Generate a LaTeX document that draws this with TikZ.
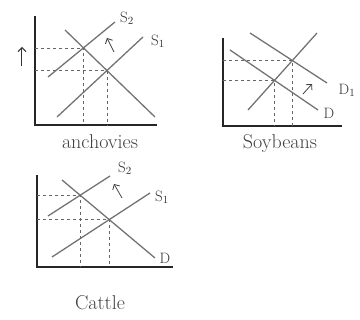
\documentclass[tikz,border=0pt]{standalone}
\usetikzlibrary{arrows.meta}
\begin{document}
\begin{tikzpicture}[x=1pt,y=-1pt,
  axisline/.style={line width=1.4pt,black!85},
  curveline/.style={line width=1.3pt,black!55},
  guideline/.style={line width=0.6pt,black!60,dash pattern=on 3pt off 3pt},
  shiftarrow/.style={line width=0.8pt,black!75,-{Straight Barb[length=4pt]}},
  curvelabel/.style={font=\fontsize{15}{17}\selectfont,black!80},
  titlelabel/.style={font=\fontsize{20}{22}\selectfont,black!75}]
\useasboundingbox (0,0) rectangle (360,320);
% ---------- Anchovies ----------
\coordinate (aO) at (35,125);
\coordinate (aY) at (35,16);
\coordinate (aX) at (157,125);
\draw[axisline] (aY) -- (aO) -- (aX);
\draw[line width=1pt,black!80,-{Straight Barb[length=4pt]}] (22,66) -- (22,47);
\coordinate (as2a) at (48,77); \coordinate (as2b) at (115,22);
\coordinate (as1a) at (57,117); \coordinate (as1b) at (143,37);
\coordinate (ada) at (65,30); \coordinate (adb) at (155,117);
\draw[curveline] (as2a) -- (as2b);
\draw[curveline] (as1a) -- (as1b);
\draw[curveline] (ada) -- (adb);
\coordinate (aE2) at (intersection of as2a--as2b and ada--adb);
\coordinate (aE1) at (intersection of as1a--as1b and ada--adb);
\draw[guideline] (aE2 -| aO) -- (aE2) -- (aE2 |- aO);
\draw[guideline] (aE1 -| aO) -- (aE1) -- (aE1 |- aO);
\draw[shiftarrow] (114,52) -- (107,38);
\node[curvelabel] (aS2) at (127,18) {S$_2$};
\node[curvelabel] (aS1) at (158,41) {S$_1$};
\node[titlelabel] (acap) at (100,142) {anchovies};
% ---------- Soybeans ----------
\coordinate (bO) at (223,126);
\coordinate (bY) at (223,38);
\coordinate (bX) at (342,126);
\draw[axisline] (bY) -- (bO) -- (bX);
\coordinate (bsa) at (248,110); \coordinate (bsb) at (317,33);
\coordinate (bda) at (230,50); \coordinate (bdb) at (318,110);
\coordinate (bd1a) at (250,33); \coordinate (bd1b) at (327,83);
\draw[curveline] (bsa) -- (bsb);
\draw[curveline] (bda) -- (bdb);
\draw[curveline] (bd1a) -- (bd1b);
\coordinate (bE1) at (intersection of bsa--bsb and bda--bdb);
\coordinate (bE2) at (intersection of bsa--bsb and bd1a--bd1b);
\draw[guideline] (bE2 -| bO) -- (bE2) -- (bE2 |- bO);
\draw[guideline] (bE1 -| bO) -- (bE1) -- (bE1 |- bO);
\draw[shiftarrow] (303,94) -- (312,84);
\node[curvelabel] (bD1) at (347,90) {D$_1$};
\node[curvelabel] (bD) at (329,113) {D};
\node[titlelabel] (bcap) at (280,144) {Soybeans};
% ---------- Cattle ----------
\coordinate (cO) at (37,267);
\coordinate (cY) at (37,175);
\coordinate (cX) at (173,267);
\draw[axisline] (cY) -- (cO) -- (cX);
\coordinate (cs2a) at (48,216); \coordinate (cs2b) at (110,176);
\coordinate (cs1a) at (52,257); \coordinate (cs1b) at (150,193);
\coordinate (cda) at (62,180); \coordinate (cdb) at (155,258);
\draw[curveline] (cs2a) -- (cs2b);
\draw[curveline] (cs1a) -- (cs1b);
\draw[curveline] (cda) -- (cdb);
\coordinate (cE2) at (intersection of cs2a--cs2b and cda--cdb);
\coordinate (cE1) at (intersection of cs1a--cs1b and cda--cdb);
\draw[guideline] (cE2 -| cO) -- (cE2) -- (cE2 |- cO);
\draw[guideline] (cE1 -| cO) -- (cE1) -- (cE1 |- cO);
\draw[shiftarrow] (122,198) -- (114,184);
\node[curvelabel] (cS2) at (125,168) {S$_2$};
\node[curvelabel] (cS1) at (162,197) {S$_1$};
\node[curvelabel] (cD) at (165,258) {D};
\node[titlelabel] (ccap) at (100,303) {Cattle};
\end{tikzpicture}
\end{document}
